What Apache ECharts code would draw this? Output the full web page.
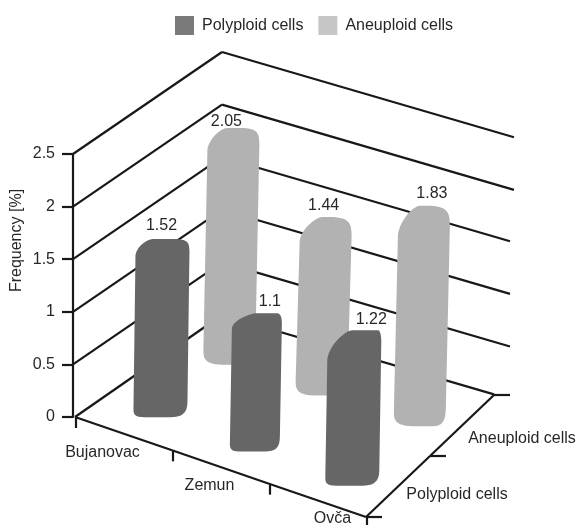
<!DOCTYPE html>
<html><head><meta charset="utf-8">
<style>html,body{margin:0;padding:0;background:#fff}#c{width:580px;height:525px}</style>
<script src="https://cdn.jsdelivr.net/npm/echarts@6/dist/echarts.min.js"></script>
</head><body><div id="c"></div>
<script>
// ---- data ----
const categories = ['Bujanovac', 'Zemun', 'Ovča'];
const seriesNames = ['Polyploid cells', 'Aneuploid cells'];
const polyploid = [1.52, 1.1, 1.22];
const aneuploid = [2.05, 1.44, 1.83];
const valueTicks = [0, 0.5, 1, 1.5, 2, 2.5];

// ---- layout of the oblique floor (pixels) ----
const INK = '#2a2627', LINE = '#1a1718', FONT = '"Liberation Sans", Arial, sans-serif', FS = 16;
const PIX = { ax: 75, ay: 417, bx: 366, by: 517, cx: 222, cy: 315, dx: 494, dy: 395 };
const WALL_DX = 149, WALL_DY = -102, SLOPE = 0.292;
function floorAt(u, v) { // u in 0..3 across categories, v in 0..2 across rows
  const s = u / 3, t = v / 2;
  const fx = PIX.ax + (PIX.bx - PIX.ax) * s, fy = PIX.ay + (PIX.by - PIX.ay) * s;
  const bx = PIX.cx + (PIX.dx - PIX.cx) * s, by = PIX.cy + (PIX.dy - PIX.cy) * s;
  return [fx + (bx - fx) * t, fy + (by - fy) * t];
}
// per-bar outline tweaks, [row][category]
const OUTLINE = [
  [ {dx:3, hw:27, t:3.5, fs:-9, fe:11, l:14, r:8, lx:-1, ly:-13}, {dx:2, hw:25, t:2, fs:0, fe:20, l:12, r:6, lx:13, ly:-12}, {dx:4, hw:27, t:0, fs:-2, fe:24, l:27, r:7, lx:17, ly:-11} ],
  [ {dx:2, hw:26, t:2, fs:-6, fe:7, l:20, r:12, lx:-7, ly:-6}, {dx:2, hw:26, t:-1.5, fs:-3, fe:3, l:22, r:15, lx:-2, ly:-11}, {dx:8, hw:26, t:0, fs:-4, fe:3, l:28, r:16, lx:8, ly:-12} ]
];
const ROW_STYLE = [
  { fill: '#666666', lean: -2, topExtra: 12, bl: 8, br: 15, bs: -18, be: 8 },
  { fill: '#b2b2b2', lean: -4, topExtra: 13, bl: 15, br: 20, bs: -8, be: 8 }
];
const CAT_LABEL = [[-21, 19], [-11, 19], [15, 18]];
const ROW_LABEL = [[59, 8], [60, 13]];

function text(str, x, y, rotation) {
  return { type: 'text', z2: 20, silent: true, x, y, rotation: rotation || 0,
    style: { text: str, x: 0, y: 0, align: 'center', verticalAlign: 'middle',
    fontSize: FS, fontFamily: FONT, fill: INK } };
}
function seg(x1, y1, x2, y2) {
  return { type: 'line', silent: true, shape: { x1, y1, x2, y2 }, style: { stroke: LINE, lineWidth: 2.2, fill: null } };
}
function renderBar(params, api) {
  const cat = api.value(0), row = api.value(1), val = api.value(2);
  const o = OUTLINE[row][cat], st = ROW_STYLE[row];
  const base = floorAt(cat + 0.5, row + 0.5);
  const h = api.size([0, val])[1];
  const cx = base[0] + o.dx;
  const yT = base[1] - h - st.topExtra + o.t;
  const yB = base[1] + 10 + 2.5 * cat;
  const L = cx - o.hw, R = cx + o.hw, lb = L + st.lean, rb = R + st.lean;
  const d = [
    'M', L, yT + o.l + 4,
    'C', L, yT + o.l * 0.6, cx + o.fs - 7, yT, cx + o.fs, yT,
    'L', cx + o.fe, yT,
    'C', R - 2, yT, R, yT + o.r * 0.4, R, yT + o.r + 4,
    'L', rb, yB - st.br,
    'C', rb, yB - st.br * 0.2, cx + st.be + 10, yB, cx + st.be, yB,
    'L', cx + st.bs, yB,
    'C', lb + 1, yB, lb, yB - st.bl * 0.4, lb, yB - st.bl,
    'Z'].join(' ');
  const minX = Math.min(L, lb), maxX = Math.max(R, rb);
  return { type: 'group', children: [
    { type: 'path', shape: { pathData: d, x: minX, y: yT, width: maxX - minX, height: yB - yT, layout: 'cover' },
      style: { fill: st.fill, stroke: null } },
    text(String(val), cx + o.lx, yT + o.ly)
  ] };
}
function renderLevel(params, api) {
  const lv = api.value(1);
  const y0 = api.coord([0, lv])[1];
  const x0 = params.coordSys.x;
  const bx = x0 + WALL_DX, by = y0 + WALL_DY;
  const run = lv === 0 ? 272 : (lv >= 2 ? 292 : 288);
  return { type: 'group', children: [
    seg(lv === 0 ? PIX.ax : x0, y0, bx, by),
    seg(bx, by, bx + run, by + run * SLOPE)
  ] };
}
function renderFloor(params, api) {
  const kind = api.value(1), i = api.value(0);
  const kids = [];
  if (kind === 0) { // category edge: tick at each boundary, label at the middle
    const a = floorAt(i, 0);
    kids.push(seg(a[0] + 1, a[1], a[0] + 1, a[1] + 11));
    if (i < categories.length) {
      const b = floorAt(i + 1, 0), m = floorAt(i + 0.5, 0);
      kids.push(seg(a[0], a[1], b[0], b[1]));
      kids.push(text(categories[i], m[0] + CAT_LABEL[i][0], m[1] + CAT_LABEL[i][1]));
    }
  } else { // row edge
    const a = floorAt(3, i);
    kids.push(seg(a[0], a[1], a[0] + 16, a[1]));
    if (i < seriesNames.length) {
      const b = floorAt(3, i + 1), m = floorAt(3, i + 0.5);
      kids.push(seg(a[0], a[1], b[0], b[1]));
      kids.push(text(seriesNames[i], m[0] + ROW_LABEL[i][0], m[1] + ROW_LABEL[i][1]));
    }
  }
  return { type: 'group', children: kids };
}
const chart = echarts.init(document.getElementById('c'), null, { renderer: 'canvas' });
chart.setOption({
  animation: false,
  backgroundColor: '#ffffff',
  legend: {
    left: 175, top: 16, padding: 0, icon: 'rect', itemWidth: 19, itemHeight: 19, itemGap: 15,
    selectedMode: false,
    textStyle: { fontSize: FS, fontFamily: FONT, color: INK, padding: [0, 0, 0, 3] },
    data: [
      { name: seriesNames[0], itemStyle: { color: '#7a7a7a' } },
      { name: seriesNames[1], itemStyle: { color: '#c6c6c6' } }
    ]
  },
  grid: { left: 73, top: 154, width: 440, height: 263, outerBoundsMode: 'none' },
  xAxis: { type: 'category', data: categories, show: false },
  yAxis: {
    type: 'value', min: 0, max: 2.5, interval: 0.5,
    name: 'Frequency [%]', nameLocation: 'middle', nameGap: 48, nameRotate: 90, nameMoveOverlap: false,
    nameTextStyle: { fontSize: FS, fontFamily: FONT, color: INK, padding: [0, 0, 0, 90] },
    axisLine: { show: true, lineStyle: { color: LINE, width: 2.2 } },
    axisTick: { show: true, length: 11, lineStyle: { color: LINE, width: 2.2 } },
    axisLabel: { fontSize: FS, fontFamily: FONT, color: INK, margin: 18, formatter: v => String(v) },
    splitLine: { show: false }
  },
  series: [
    { type: 'custom', name: 'levels', z: 1, clip: false, silent: true, renderItem: renderLevel,
      encode: { x: 0, y: 1 }, data: valueTicks.map(v => [0, v]) },
    { type: 'custom', name: 'floor', z: 1, clip: false, silent: true, renderItem: renderFloor,
      encode: { x: 0, y: 1 },
      data: [0, 1, 2, 3].map(i => [i, 0]).concat([0, 1, 2].map(i => [i, 1])) },
    { type: 'custom', name: seriesNames[1], z: 2, clip: false, renderItem: renderBar,
      itemStyle: { color: '#c6c6c6' }, encode: { x: 0, y: 2 },
      data: aneuploid.map((v, i) => [i, 1, v]) },
    { type: 'custom', name: seriesNames[0], z: 3, clip: false, renderItem: renderBar,
      itemStyle: { color: '#7a7a7a' }, encode: { x: 0, y: 2 },
      data: polyploid.map((v, i) => [i, 0, v]) }
  ]
});
</script></body></html>
